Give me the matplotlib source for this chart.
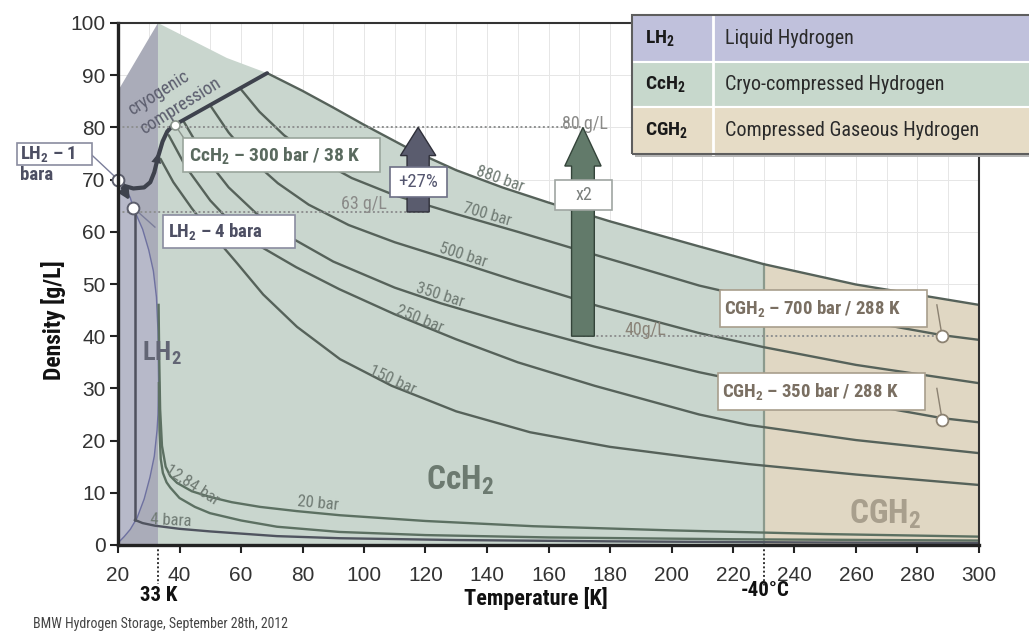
import numpy as np
import matplotlib.pyplot as plt
from matplotlib import font_manager
from matplotlib.patches import Rectangle, Polygon, FancyArrow

# pick a condensed face if one is installed
names = {f.name for f in font_manager.fontManager.ttflist}
NARROW = 'Liberation Sans'
for cand in ['Liberation Sans Narrow', 'Roboto Condensed', 'Open Sans Condensed']:
    if cand in names:
        NARROW = cand
        break

plt.rcParams['font.family'] = ['Liberation Sans', 'DejaVu Sans']
plt.rcParams['mathtext.fontset'] = 'custom'
plt.rcParams['mathtext.rm'] = NARROW + ':bold'
plt.rcParams['mathtext.bf'] = NARROW + ':bold'
plt.rcParams['mathtext.it'] = NARROW + ':bold'

W, H = 1029, 635

# ---- data (T in K, density in g/L) ----
T_880 = [68.5, 80, 90, 100, 115, 130, 145, 160, 180, 209, 230, 260, 300]
D_880 = [90.4, 87.0, 83.8, 80.5, 75.8, 71.8, 68.5, 65.6, 62.0, 57.2, 53.8, 49.9, 46.0]
T_700 = [59.7, 66, 74, 84, 96, 110, 130, 150, 167, 185, 209, 240, 270, 288, 300]
D_700 = [87.5, 83.0, 78.5, 74.2, 70.3, 67.0, 63.4, 60.0, 57.0, 53.9, 49.7, 45.5, 42.1, 40.2, 39.3]
T_500 = [49.9, 56, 64, 72, 82, 95, 110, 130, 150, 176, 209, 230, 260, 300]
D_500 = [84.3, 79.0, 73.5, 69.3, 65.2, 61.3, 58.0, 54.3, 50.5, 45.8, 40.6, 37.9, 34.5, 31.0]
T_350 = [41.1, 48, 56, 65, 75, 90, 110, 125, 150, 175, 209, 240, 270, 288, 300]
D_350 = [81.4, 74.5, 68.5, 63.5, 59.3, 54.3, 49.3, 46.3, 42.0, 38.0, 33.1, 29.3, 26.2, 24.3, 23.5]
T_250 = [36.5, 42, 50, 58, 66, 78, 92, 110, 130, 150, 175, 209, 225, 260, 300]
D_250 = [78.5, 72.5, 66.0, 61.0, 57.3, 53.2, 49.0, 44.2, 39.4, 35.0, 30.5, 25.0, 23.0, 20.1, 17.6]
T_150 = [33.8, 38, 44, 50, 58.7, 67.2, 78.2, 92.2, 109, 130, 154, 180, 209, 225, 260, 300]
D_150 = [74.0, 69.5, 64.5, 60.0, 54.0, 48.0, 41.8, 35.6, 30.5, 25.6, 21.6, 18.8, 16.6, 15.5, 13.5, 11.5]
T_20 = [33.2, 33.4, 33.7, 34.3, 35.5, 37, 39.2, 44, 49.9, 57, 66.2, 78, 92.2, 120, 155, 200, 250, 300]
D_20 = [46.0, 36.0, 26.0, 19.0, 15.0, 13.2, 11.9, 10.3, 9.2, 8.2, 7.3, 6.5, 5.7, 4.6, 3.6, 2.8, 2.1, 1.6]
T_1284 = [33.3, 33.5, 33.9, 34.6, 35.8, 37, 40, 45, 49.9, 60, 71.7, 92, 120, 160, 220, 300]
D_1284 = [31.0, 22.0, 16.5, 13.8, 12.0, 11.0, 9.0, 7.3, 6.1, 4.7, 3.5, 2.5, 1.9, 1.45, 1.1, 0.85]
T_4 = [25.5, 28, 32, 40, 50, 71.7, 92, 130, 180, 240, 300]
D_4 = [4.8, 4.2, 3.7, 3.1, 2.6, 1.7, 1.3, 0.95, 0.7, 0.5, 0.38]

# saturation dome (liquid branch down, vapour branch back)
T_sat = [20, 22, 24, 25, 26, 28, 30, 31.5, 32.5, 33.0, 33.2, 33.0, 32.7, 31.8, 30.4, 28.5, 26.2, 24, 22, 20]
D_sat = [71.0, 69.0, 66.5, 64.6, 63.2, 60.5, 56.5, 52.5, 47.5, 41.0, 31.0, 25.0, 22.0, 17.0, 13.0, 8.8, 5.2, 3.0, 1.6, 0.4]

# cryogenic compression path and melting line
T_cc = [20.6, 22, 25, 28.5, 30.5, 31.8, 33, 34.5, 36, 37.5, 38.5]
D_cc = [69.6, 68.8, 68.3, 68.5, 69.5, 71.4, 74.3, 77.3, 79.2, 80.2, 80.5]
T_melt = [38.5, 68.5]
D_melt = [80.5, 90.4]

# upper edge of shaded area left of the 880 bar line
T_top = [20, 33, 55.4, 68.5]
D_top = [87, 100, 93.3, 90.4]

T_lh2_end = 33
T_cgh2_start = 230
T_lh2_4bar = 25.5

isobars = [
    ('880 bar', T_880, D_880, 144.2, 1.4),
    ('700 bar', T_700, D_700, 140.0, 1.6),
    ('500 bar', T_500, D_500, 132.2, 1.6),
    ('350 bar', T_350, D_350, 124.7, 1.5),
    ('250 bar', T_250, D_250, 118.2, 1.1),
    ('150 bar', T_150, D_150, 109.1, 1.1),
]

fig = plt.figure(figsize=(W / 100, H / 100), dpi=100)
ax = fig.add_axes([118 / W, 1 - 545 / H, (979 - 118) / W, (545 - 23) / H])
ax.set_xlim(20, 300)
ax.set_ylim(0, 100)

# faint grid
ax.set_xticks(np.arange(20, 301, 10), minor=True)
ax.grid(True, which='both', color='#e6e6e6', lw=0.7, zorder=0)
ax.set_axisbelow(True)

# ---- shaded regions ----
lh2_poly = [(20, 0), (T_top[0], D_top[0]), (T_top[1], D_top[1]), (T_lh2_end, 0)]
ax.add_patch(Polygon(lh2_poly, closed=True, fc='#aaacb9', ec='none', zorder=1))
ax.add_patch(Polygon(list(zip(T_sat, D_sat)), closed=True, fc='#b7b9c9', ec='none', zorder=1.1))

T880 = np.array(T_880)
D880 = np.array(D_880)
d_cut = np.interp(T_cgh2_start, T880, D880)
mid = T880 < T_cgh2_start
cc_poly = [(T_lh2_end, 0)] + list(zip(T_top[1:], D_top[1:])) + \
    list(zip(T880[mid], D880[mid])) + [(T_cgh2_start, d_cut), (T_cgh2_start, 0)]
ax.add_patch(Polygon(cc_poly, closed=True, fc='#c9d6ce', ec='none', zorder=1))
cg_poly = [(T_cgh2_start, 0), (T_cgh2_start, d_cut)] + \
    list(zip(T880[~mid], D880[~mid])) + [(300, 0)]
ax.add_patch(Polygon(cg_poly, closed=True, fc='#e0d7c3', ec='none', zorder=1))
ax.plot([T_cgh2_start, T_cgh2_start], [0, d_cut], color='#8b9a8d', lw=1.6, zorder=2)

# ---- lines ----
ax.plot(T_sat, D_sat, color='#6e71a0', lw=1.0, zorder=3)
ax.plot([T_lh2_4bar, T_lh2_4bar], [D_4[0], 64.6], color='#4f515e', lw=1.8, zorder=3)
for name, T, D, tl, off in isobars:
    ax.plot(T, D, color='#56625a', lw=1.7, zorder=3, solid_capstyle='round')
ax.plot(T_20, D_20, color='#5c7062', lw=1.7, zorder=3)
ax.plot(T_1284, D_1284, color='#5c7062', lw=1.7, zorder=3)
ax.plot(T_4, D_4, color='#50545f', lw=1.7, zorder=3)

ax.plot(T_cc, D_cc, color='#3e424d', lw=3.0, zorder=4, solid_capstyle='round')
ax.plot(T_melt, D_melt, color='#3e424d', lw=2.8, zorder=4, solid_capstyle='round')
ax.annotate('', xy=(33.3, 75.6), xytext=(32.0, 72.0),
            arrowprops=dict(arrowstyle='-|>', color='#3e424d', lw=0, mutation_scale=18), zorder=5)
ax.annotate('', xy=(24.3, 65.6), xytext=(21.0, 68.8),
            arrowprops=dict(arrowstyle='-|>', color='#3e424d', lw=2.5, mutation_scale=14), zorder=5)


def label_angle(T, D, t0):
    p1 = ax.transData.transform((t0 - 4, np.interp(t0 - 4, T, D)))
    p2 = ax.transData.transform((t0 + 4, np.interp(t0 + 4, T, D)))
    return np.degrees(np.arctan2(p2[1] - p1[1], p2[0] - p1[0]))


lab_kw = dict(family=NARROW, color='#6f7a73', fontsize=12, ha='center', va='center',
              rotation_mode='anchor', zorder=6)
for name, T, D, tl, off in isobars:
    ax.text(tl, np.interp(tl, T, D) + off, name, rotation=label_angle(T, D, tl), **lab_kw)
ax.text(85, np.interp(85, T_20, D_20) + 1.8, '20 bar', rotation=label_angle(T_20, D_20, 85), **lab_kw)
ax.text(44.0, 11.4, '12,84 bar', rotation=-33, **lab_kw)
ax.text(37.2, 4.6, '4 bara', rotation=-3, **lab_kw)

# ---- reference levels and arrows ----
dot_kw = dict(color='#8e9090', lw=1.4, ls=(0, (1, 1.3)), zorder=4)
lvl_cc, lvl_lh2, lvl_cgh2 = 80, 63.8, 40
x_pct, x_two, T_ref = 117.6, 171.2, 288
ax.plot([20, x_two], [lvl_cc, lvl_cc], **dot_kw)
ax.plot([20, x_pct + 3.7], [lvl_lh2, lvl_lh2], **dot_kw)
ax.plot([x_two, T_ref], [lvl_cgh2, lvl_cgh2], **dot_kw)
gl_kw = dict(family=NARROW, fontsize=13, va='center', zorder=5)
ax.text(172.0, lvl_cc + 0.7, '80 g/L', color='#8a8a88', ha='center', **gl_kw)
ax.text(107.5, lvl_lh2 + 1.6, '63 g/L', color='#8a8a88', ha='right', **gl_kw)
ax.text(191.5, lvl_cgh2 + 1.2, '40g/L', color='#8a8378', ha='center', **gl_kw)

ax.add_patch(FancyArrow(x_pct, lvl_lh2, 0, lvl_cc - lvl_lh2, width=7.2, head_width=11.5,
                        head_length=5.4, length_includes_head=True, fc='#5a5c6e', ec='#2f303a',
                        lw=1.0, zorder=6))
ax.add_patch(FancyArrow(x_two, lvl_cgh2, 0, lvl_cc - lvl_cgh2, width=7.4, head_width=11.8,
                        head_length=7.4, length_includes_head=True, fc='#627a6a', ec='#34443a',
                        lw=1.0, zorder=6))


# ---- annotation boxes ----
def box(t0, t1, d0, d1, ec):
    ax.add_patch(Rectangle((t0, d0), t1 - t0, d1 - d0, fc='white', ec=ec, lw=1.2,
                           zorder=7, clip_on=False))


box(-12.8, 11.5, 72.8, 77.0, '#8a8ca0')
ax.text(-11.8, 74.9, 'LH$_2$ – 1', family=NARROW, weight='bold', fontsize=13.5, color='#4d4f63',
        va='center', zorder=8, clip_on=False)
ax.text(-11.8, 70.8, 'bara', family=NARROW, weight='bold', fontsize=13.5, color='#4d4f63',
        va='center', zorder=8, clip_on=False)
box(34.6, 77.6, 56.9, 63.2, '#8a8ca0')
ax.text(36.3, 60.0, 'LH$_2$ – 4 bara', family=NARROW, weight='bold', fontsize=13.5,
        color='#4d4f63', va='center', zorder=8)
box(41.1, 105.2, 71.5, 78.0, '#9aa59c')
ax.text(43.2, 74.7, 'CcH$_2$ – 300 bar / 38 K', family=NARROW, weight='bold', fontsize=14,
        color='#5a6a5f', va='center', zorder=8)
box(108.5, 127.0, 66.7, 72.4, '#6d6f85')
ax.text(117.7, 69.5, '+27%', family=NARROW, fontsize=13.5, color='#555770', ha='center',
        va='center', zorder=8)
box(162.1, 180.7, 64.2, 69.9, '#a0a6a2')
ax.text(171.4, 67.0, 'x2', family=NARROW, fontsize=13, color='#7a7f7c', ha='center',
        va='center', zorder=8)
box(215.8, 283.1, 41.8, 48.9, '#a89e8c')
ax.text(217.1, 45.3, 'CGH$_2$ – 700 bar / 288 K', family=NARROW, weight='bold', fontsize=13.5,
        color='#7a6f62', va='center', zorder=8)
box(215.1, 282.4, 25.9, 33.0, '#a89e8c')
ax.text(216.4, 29.4, 'CGH$_2$ – 350 bar / 288 K', family=NARROW, weight='bold', fontsize=13.5,
        color='#7a6f62', va='center', zorder=8)

# leaders and marker circles
lead_kw = dict(lw=1.0, zorder=6, clip_on=False)
ax.plot([11.5, 20], [74.7, 70], color='#7b7e9a', **lead_kw)
ax.plot([25, 32], [64.6, 60.9], color='#7b7e9a', **lead_kw)
ax.plot([38.5, 41.8], [80.5, 77.6], color='#8a948c', **lead_kw)
ax.plot([286.3, 288], [46.0, 40], color='#8b8171', **lead_kw)
ax.plot([286.3, 288], [30.0, 24], color='#8b8171', **lead_kw)
ax.plot([20, 25], [70, 64.6], 'o', ms=8.5, mfc='white', mec='#5c5e6c', mew=1.4, zorder=9,
        clip_on=False)
ax.plot([38.5], [80.5], 'o', ms=6.5, mfc='white', mec='#8a948c', mew=1.2, zorder=9)
ax.plot([T_ref, T_ref], [40, 24], 'o', ms=8.5, mfc='white', mec='#8b8171', mew=1.3, zorder=9)

# ---- region names ----
ax.text(34.3, 36.8, 'LH$_2$', family=NARROW, weight='bold', fontsize=19, color='#626574',
        ha='center', va='center', zorder=5)
ax.text(131.2, 12.3, 'CcH$_2$', family=NARROW, weight='bold', fontsize=24, color='#6c7a70',
        ha='center', va='center', zorder=5)
ax.text(269.4, 5.8, 'CGH$_2$', family=NARROW, weight='bold', fontsize=24, color='#a89f8d',
        ha='center', va='center', zorder=5)

ax.text(33.2, 86.6, 'cryogenic', family=NARROW, fontsize=13, color='#5c5e6e', rotation=32,
        ha='center', va='center', rotation_mode='anchor', zorder=5)
ax.text(40.3, 84.0, 'compression', family=NARROW, fontsize=13, color='#5c5e6e', rotation=32,
        ha='center', va='center', rotation_mode='anchor', zorder=5)

# ---- axes ----
ax.set_xticks(np.arange(20, 301, 20))
ax.set_yticks(np.arange(0, 101, 10))
ax.tick_params(axis='both', which='major', direction='out', length=6, width=1.5,
               labelsize=15, colors='#222222', labelcolor='#333333')
ax.tick_params(axis='x', which='major', pad=9)
ax.tick_params(axis='y', which='major', pad=3)
ax.tick_params(axis='x', which='minor', length=0)
for side in ['left', 'bottom']:
    ax.spines[side].set_linewidth(2.4)
    ax.spines[side].set_color('#222222')
for side in ['top', 'right']:
    ax.spines[side].set_linewidth(1.5)
    ax.spines[side].set_color('#333333')
for sp in ax.spines.values():
    sp.set_zorder(10)

ax.plot([T_lh2_end, T_lh2_end], [0, -7.5], color='#333333', lw=1.4, ls=(0, (1, 1.2)),
        clip_on=False, zorder=10)
ax.plot([T_cgh2_start, T_cgh2_start], [0, -8.0], color='#333333', lw=1.4, ls=(0, (1, 1.2)),
        clip_on=False, zorder=10)
ax.text(33.3, -9.6, '33 K', family=NARROW, weight='bold', fontsize=15, color='#111111',
        ha='center', va='center', clip_on=False)
ax.text(230.4, -8.7, '-40°C', family=NARROW, weight='bold', fontsize=15, color='#111111',
        ha='center', va='center', clip_on=False)

fig.text(536 / W, 1 - 598 / H, 'Temperature [K]', family=NARROW, weight='bold', fontsize=16,
         color='#111111', ha='center', va='center')
fig.text(53 / W, 1 - 320 / H, 'Density [g/L]', family=NARROW, weight='bold', fontsize=17,
         color='#111111', ha='center', va='center', rotation=90)
fig.text(33 / W, 1 - 624 / H, 'BMW Hydrogen Storage, September 28th, 2012', family=NARROW,
         fontsize=10, color='#444444', ha='left', va='center')

# ---- legend table (figure pixels) ----
tab_x0, tab_x1, tab_col = 632, 1040, 713
row_y = [15, 62, 107, 154]
row_fc = ['#c0c1dc', '#c7d8cc', '#e6dcc6']
row_key = ['LH$_2$', 'CcH$_2$', 'CGH$_2$']
row_txt = ['Liquid Hydrogen', 'Cryo-compressed Hydrogen', 'Compressed Gaseous Hydrogen']


def frect(x, y, w, h, **kw):
    r = Rectangle((x / W, 1 - (y + h) / H), w / W, h / H, transform=fig.transFigure, **kw)
    fig.add_artist(r)


frect(tab_x0 + 3, row_y[0] + 3, tab_x1 - tab_x0, row_y[-1] - row_y[0], fc='#b5b5b5', ec='none',
      zorder=20)
for i in range(3):
    frect(tab_x0, row_y[i], tab_x1 - tab_x0, row_y[i + 1] - row_y[i], fc=row_fc[i], ec='white',
          lw=1.5, zorder=21)
    yc = 1 - (row_y[i] + row_y[i + 1]) / 2 / H
    fig.text((tab_x0 + 13) / W, yc, row_key[i], family=NARROW, weight='bold', fontsize=14,
             color='#1a1a1a', va='center', zorder=23)
    fig.text((tab_col + 12) / W, yc, row_txt[i], family=NARROW, fontsize=14.5,
             color='#2a2a2a', va='center', zorder=23)
fig.add_artist(plt.Line2D([tab_col / W] * 2, [1 - row_y[0] / H, 1 - row_y[-1] / H],
                          transform=fig.transFigure, color='white', lw=2, zorder=22))
frect(tab_x0, row_y[0], tab_x1 - tab_x0, row_y[-1] - row_y[0], fc='none', ec='#5e5e5e', lw=1.5,
      zorder=22)

fig.savefig('out.png', dpi=100)
